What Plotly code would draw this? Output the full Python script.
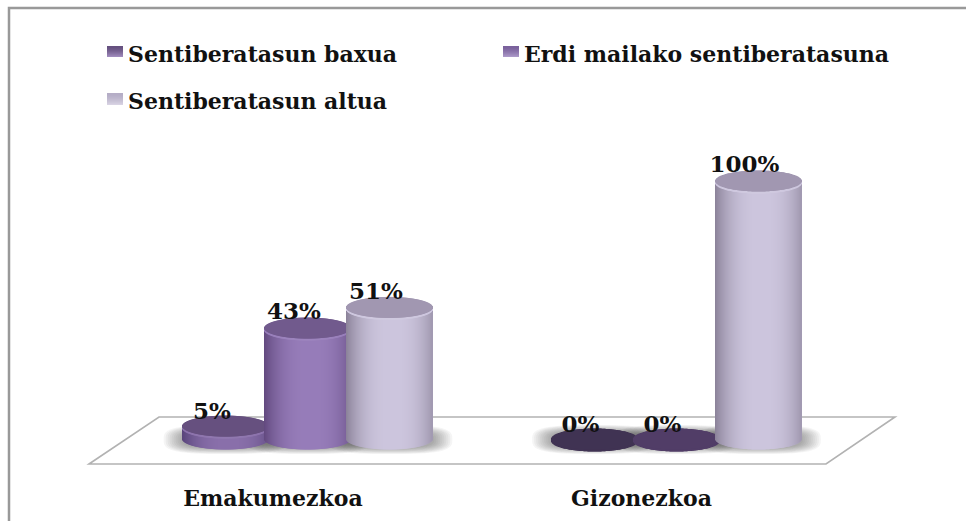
import numpy as np
import plotly.graph_objects as go

categories = ["Emakumezkoa", "Gizonezkoa"]
series_names = ["Sentiberatasun baxua", "Erdi mailako sentiberatasuna", "Sentiberatasun altua"]
baxua = [5, 0]
erdi = [43, 0]
altua = [51, 100]
series_values = [baxua, erdi, altua]

W, H = 966, 521
PLOT_BOTTOM = 480
ZERO_PX, FULL_PX = 439, 181
X0_PX, X1_PX = 308, 676.5
XS = X1_PX - X0_PX
YS = (ZERO_PX - FULL_PX) / 100
def xv(px): return (px - X0_PX) / XS
def yv(px): return (ZERO_PX - px) / YS
def xp(px): return px / W
def yp(px): return 1 - px / PLOT_BOTTOM

OFFSET = 82 / XS
RX = 43 / XS
RY = 10.5 / YS
offsets = [-OFFSET, 0, OFFSET]
N = 86
tt = (np.arange(N) + 0.5) / N * 2 - 1
sq = np.sqrt(1 - tt ** 2)

styles = [
    dict(dark="#58447a", light="#8a70ab", cap="#66507f", cap0="#403353", sw_top="#65507f", sw_bot="#a08bbd"),
    dict(dark="#62497f", light="#977dba", cap="#715a8d", cap0="#513d67", sw_top="#7a619c", sw_bot="#ab98c8"),
    dict(dark="#8b8299", light="#cdc6de", cap="#a197b1", cap0="#a197b1", sw_top="#b5adc6", sw_bot="#d8d3e3"),
]
swatch_boxes = [(107, 123, 46, 57), (503, 519, 46, 57), (107, 123, 93, 105)]
legend_ids = ["legend", "legend3", "legend2"]

def hexrgb(c): return np.array([int(c[i:i + 2], 16) for i in (1, 3, 5)], float)
def mix(a, b, s):
    v = hexrgb(a) * (1 - s) + hexrgb(b) * s
    return "rgb(%d,%d,%d)" % tuple(v)

fig = go.Figure()
shapes = []

# chart frame edges (top and left only are visible in the reference)
shapes.append(dict(type="rect", xref="paper", yref="paper", layer="below",
                   x0=xp(9), x1=1.2, y0=-0.5, y1=yp(8),
                   line=dict(color="#999999", width=2.5), fillcolor="white"))
# floor
fx = [xv(89), xv(159), xv(895), xv(826), xv(89)]
fy = [yv(464), yv(417), yv(417), yv(464), yv(464)]
shapes.append(dict(type="path", xref="x", yref="y", layer="below",
                   path="M " + " L ".join(f"{a:.5f},{b:.5f}" for a, b in zip(fx, fy)) + " Z",
                   line=dict(color="#b2b2b2", width=1.6), fillcolor="white"))
# soft contact shadows below each cylinder
th = np.linspace(0, 2 * np.pi, 60)
LAYERS = 10
for i, vals in enumerate(series_values):
    for c in range(len(categories)):
        cx = c + offsets[i]
        for k in range(LAYERS):
            f = k / (LAYERS - 1)
            grow = 1.45 - f * 0.42
            ry = (14.5 - f * 6) / YS
            n = 3.2
            px = cx + RX * grow * np.sign(np.cos(th)) * np.abs(np.cos(th)) ** (2 / n)
            py = -0.5 / YS + ry * np.sign(np.sin(th)) * np.abs(np.sin(th)) ** (2 / n)
            shapes.append(dict(type="path", xref="x", yref="y", layer="below",
                               path="M " + " L ".join(f"{a:.5f},{b:.5f}" for a, b in zip(px, py)) + " Z",
                               line=dict(width=0), fillcolor="rgba(60,60,60,0.05)"))
# legend swatches
for (x0, x1, y0, y1), st in zip(swatch_boxes, styles):
    steps = y1 - y0
    for k in range(steps):
        shapes.append(dict(type="rect", xref="paper", yref="paper", layer="above",
                           x0=xp(x0), x1=xp(x1), y0=yp(y0 + k), y1=yp(y0 + k + 1),
                           line=dict(width=0),
                           fillcolor=mix(st["sw_top"], st["sw_bot"], (k / (steps - 1)) ** 1.5)))

# cylinders, built from vertical strips with the bar trace
strip_w = 2 * RX / N * 1.05
for i, (name, vals, st) in enumerate(zip(series_names, series_values, styles)):
    bx, by, bb, bc = [], [], [], []
    rx_, ry_, rb_, rc_ = [], [], [], []
    cx_, cy_, cb_, cc_ = [], [], [], []
    for c, v in enumerate(vals):
        for t, q in zip(tt, sq):
            x = c + offsets[i] + t * RX
            d = np.clip(abs(t - 0.08) / 1.08, 0, 1)
            shade = 1 - d ** 2.6
            bx.append(x); bb.append(-RY * q); by.append(v + RY * q); bc.append(mix(st["dark"], st["light"], shade))
            # bright rim under the cap
            rx_.append(x); rb_.append(v - RY * q - 2.0 / YS); ry_.append(2.0 / YS + 0.5 / YS)
            rc_.append(mix(st["light"], "#ffffff", 0.06 * (1 - abs(t) ** 2)) if v > 0 else st["cap0"])
            # top cap
            base_cap = st["cap"] if v > 0 else st["cap0"]
            cx_.append(x); cb_.append(v - RY * q); cy_.append(2 * RY * q); cc_.append(base_cap)
    wid = [strip_w] * len(bx)
    fig.add_bar(x=bx, y=by, base=bb, width=wid, marker=dict(color=bc, line=dict(width=0)),
                showlegend=False, hoverinfo="skip")
    fig.add_bar(x=rx_, y=ry_, base=rb_, width=wid, marker=dict(color=rc_, line=dict(width=0)),
                showlegend=False, hoverinfo="skip")
    fig.add_bar(x=cx_, y=cy_, base=cb_, width=wid, marker=dict(color=cc_, line=dict(width=0)),
                showlegend=False, hoverinfo="skip")

# value labels
LABEL_SHIFT = -14 / XS
LABEL_LIFT = 3 / YS
lx, ly, lt = [], [], []
for i, vals in enumerate(series_values):
    for c, v in enumerate(vals):
        lx.append(c + offsets[i] + LABEL_SHIFT)
        ly.append(v + (LABEL_LIFT if v > 10 else 1 / YS))
        lt.append(f"{v}%")
fig.add_scatter(x=lx, y=ly, text=lt, mode="text", textposition="top center",
                textfont=dict(family="DejaVu Serif", size=23, color="#111111", weight="bold"),
                showlegend=False, hoverinfo="skip")

# legend entries (their swatches are the gradient rectangles above)
for name, lid in zip(series_names, legend_ids):
    fig.add_scatter(x=[None], y=[None], mode="markers", name=name,
                    marker=dict(symbol="square", size=13, color="rgba(0,0,0,0)"),
                    legend=lid)

legend_font = dict(family="DejaVu Serif", size=22, color="#111111", weight="bold")
def legend_box(left, top):
    return dict(orientation="h", x=xp(left), xanchor="left", y=yp(top), yanchor="top",
                font=legend_font, bgcolor="rgba(0,0,0,0)", itemclick=False, itemdoubleclick=False)
fig.update_layout(
    width=W, height=H, autosize=False,
    margin=dict(l=0, r=0, t=0, b=H - PLOT_BOTTOM),
    paper_bgcolor="white", plot_bgcolor="rgba(0,0,0,0)",
    barmode="overlay", shapes=shapes,
    xaxis=dict(range=[xv(0), xv(W)], tickvals=[0 - 35 / XS, 1 - 35 / XS], ticktext=categories,
               showgrid=False, zeroline=False, showline=False, ticks="", ticklabelstandoff=3,
               tickfont=dict(family="DejaVu Serif", size=22, color="#111111", weight="bold")),
    yaxis=dict(range=[yv(PLOT_BOTTOM), yv(0)], visible=False),
    legend=legend_box(88, 33),
    legend3=legend_box(484, 33),
    legend2=legend_box(88, 80),
)
fig.write_html("out.html", config=dict(displayModeBar=False),
               post_script="document.body.style.margin='0';")
